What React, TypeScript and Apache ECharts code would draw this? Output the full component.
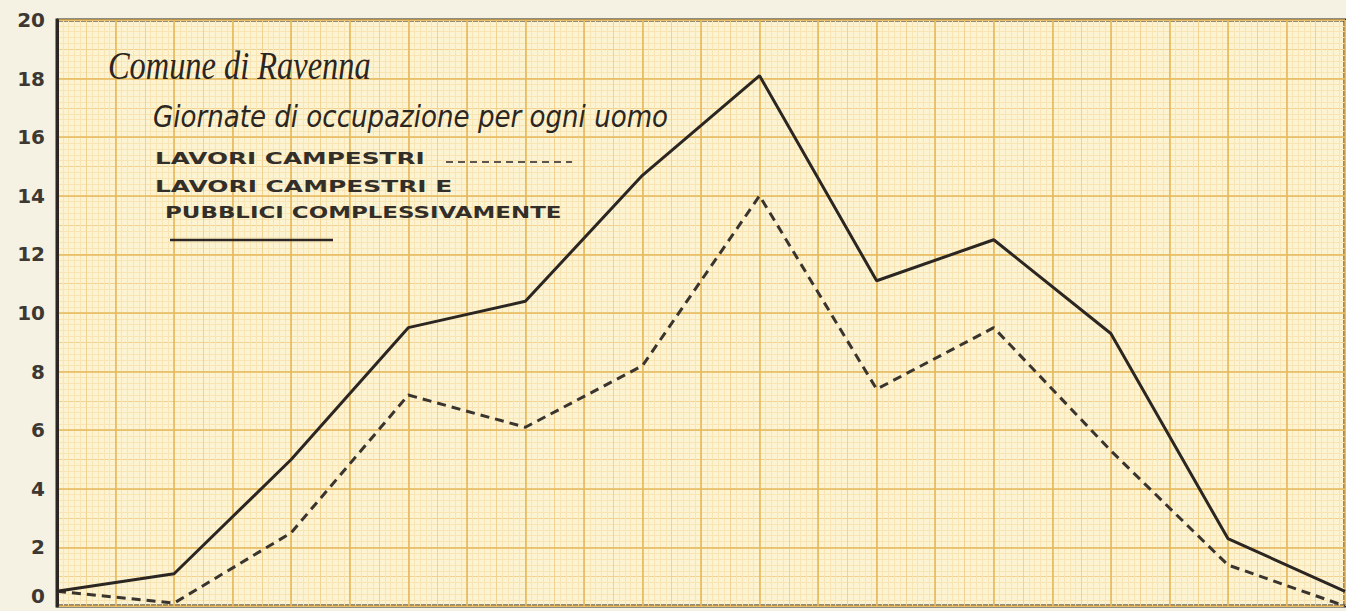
import React, { useEffect, useRef } from "react";
import * as echarts from "echarts";

// Twelve observation points (months), no labels shown on the original sheet
const months = ["Gen", "Feb", "Mar", "Apr", "Mag", "Giu", "Lug", "Ago", "Set", "Ott", "Nov", "Dic"];
// Lavori campestri e pubblici complessivamente (solid)
const totalValues = [0.5, 1.1, 5.0, 9.5, 10.4, 14.7, 18.1, 11.1, 12.5, 9.3, 2.3, 0.5];
// Lavori campestri (dashed)
const fieldValues = [0.5, 0.1, 2.5, 7.2, 6.1, 8.2, 14.0, 7.4, 9.5, 5.3, 1.4, 0.0];
const yMin = 0;
const yMax = 20;
const yStep = 2;

const titleText = "Comune di Ravenna";
const subtitleText = "Giornate di occupazione per ogni uomo";
const legendField = "LAVORI CAMPESTRI";
const legendTotal1 = "LAVORI CAMPESTRI E";
const legendTotal2 = "PUBBLICI COMPLESSIVAMENTE";

const INK = "#2b2621";
const MAJOR = "#e6b95c";
const MEDIUM = "#f1d290";
const FINE = "#f8e5b3";

export default function App() {
  const ref = useRef<HTMLDivElement>(null);
  useEffect(() => {
    if (!ref.current) return;
    const chart = echarts.init(ref.current, undefined, { renderer: "svg" });
    const xSpan = (months.length - 1) * 2;
    const gridAxisX = (interval: number, color: string, width: number, minor: boolean, z: number) => ({
      type: "value",
      min: 0,
      max: xSpan,
      interval,
      z,
      axisLine: { show: false },
      axisTick: { show: false },
      axisLabel: { show: false },
      splitLine: { show: true, lineStyle: { color, width } },
      minorTick: { show: false, splitNumber: 5 },
      minorSplitLine: { show: minor, lineStyle: { color: FINE, width: 1 } },
    });
    const legendStyle = (text: string) => ({
      text,
      fontSize: 16.5,
      fontWeight: "bold",
      fontFamily: "DejaVu Sans",
      fill: "#332e28",
      textVerticalAlign: "middle",
    });
    chart.setOption({
      animation: false,
      backgroundColor: "#f5f2e4",
      grid: {
        left: 57,
        right: 1,
        top: 20,
        bottom: 5,
        show: true,
        outerBoundsMode: "none",
        backgroundColor: "#fcf3d2",
        borderColor: INK,
        borderWidth: 3,
        z: 0,
      },
      xAxis: [
        {
          type: "category",
          data: months,
          boundaryGap: false,
          axisLine: { show: false },
          axisTick: { show: false },
          axisLabel: { show: false },
          splitLine: { show: false },
        },
        gridAxisX(0.5, MEDIUM, 1, true, 0),
        gridAxisX(1, MAJOR, 1.6, false, 1),
      ],
      yAxis: [
        {
          type: "value",
          min: yMin,
          max: yMax,
          interval: yStep,
          z: 1,
          axisLine: { show: true, lineStyle: { color: INK, width: 3 } },
          axisTick: { show: false },
          axisLabel: {
            color: "#3d3831",
            fontFamily: "DejaVu Sans",
            fontWeight: "bold",
            fontSize: 20,
            margin: 12,
            verticalAlignMinLabel: "bottom",
          },
          splitLine: { show: true, lineStyle: { color: MAJOR, width: 1.6 } },
          minorTick: { show: false },
          minorSplitLine: { show: false },
        },
        {
          type: "value",
          min: yMin,
          max: yMax,
          interval: yStep / 2,
          z: 0,
          axisLine: { show: false },
          axisTick: { show: false },
          axisLabel: { show: false },
          splitLine: { show: true, lineStyle: { color: MEDIUM, width: 1 } },
          minorTick: { show: false, splitNumber: 5 },
          minorSplitLine: { show: true, lineStyle: { color: FINE, width: 1 } },
        },
      ],
      graphic: [
        {
          type: "text",
          x: 108,
          y: 66,
          scaleX: 0.81,
          z: 5,
          style: {
            text: titleText,
            fontSize: 40,
            fontStyle: "italic",
            fontFamily: "Liberation Serif",
            fill: INK,
            textVerticalAlign: "middle",
          },
        },
        {
          type: "text",
          x: 153,
          y: 117,
          scaleX: 0.87,
          z: 5,
          style: {
            text: subtitleText,
            fontSize: 30,
            fontStyle: "italic",
            fontFamily: "DejaVu Sans",
            fill: INK,
            textVerticalAlign: "middle",
          },
        },
        {
          type: "text",
          x: 155,
          y: 158,
          scaleX: 1.5,
          z: 5,
          style: legendStyle(legendField),
        },
        {
          type: "line",
          z: 5,
          shape: { x1: 446, y1: 162, x2: 572, y2: 162 },
          style: { stroke: "#5a554e", lineWidth: 2, lineDash: [7, 5] },
        },
        {
          type: "text",
          x: 155,
          y: 186,
          scaleX: 1.51,
          z: 5,
          style: legendStyle(legendTotal1),
        },
        {
          type: "text",
          x: 165,
          y: 212,
          scaleX: 1.39,
          z: 5,
          style: legendStyle(legendTotal2),
        },
        {
          type: "line",
          z: 5,
          shape: { x1: 170, y1: 240, x2: 333, y2: 240 },
          style: { stroke: INK, lineWidth: 2.5 },
        },
      ],
      series: [
        {
          name: legendField,
          type: "line",
          xAxisIndex: 0,
          yAxisIndex: 0,
          data: fieldValues,
          symbol: "none",
          z: 4,
          lineStyle: { color: "#3a342e", width: 3, type: [9, 6] },
        },
        {
          name: legendTotal1 + " " + legendTotal2,
          type: "line",
          xAxisIndex: 0,
          yAxisIndex: 0,
          data: totalValues,
          symbol: "none",
          z: 4,
          lineStyle: { color: INK, width: 3 },
        },
      ],
    });
    return () => chart.dispose();
  }, []);
  return (
    <div
      ref={ref}
      style={{ position: "fixed", left: 0, top: 0, width: 1346, height: 611 }}
    />
  );
}
